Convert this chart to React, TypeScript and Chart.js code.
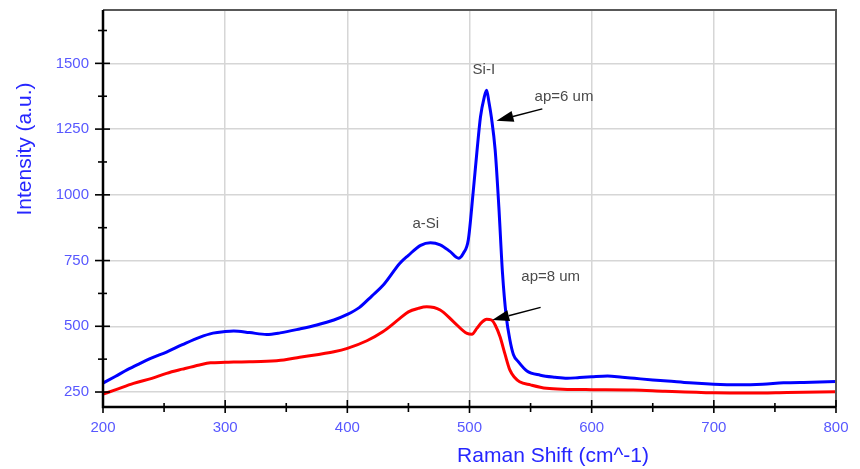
import React, { useEffect, useRef } from 'react';
import { Chart, registerables } from 'chart.js';

Chart.register(...registerables);

// Raman shift (cm^-1) and intensity (a.u.), ap = 6 um (blue)
const blueShift = [200, 210, 220, 230, 240, 252, 265, 279, 290, 300, 307, 320, 334, 345, 361, 375, 389, 400, 410, 420, 430, 443, 450, 460, 468, 476, 484, 491, 495, 499, 503, 506, 509, 512, 514, 516, 518, 521, 524, 527, 530, 533, 536, 540, 547, 558, 570, 580, 590, 600, 613, 625, 635, 650, 662, 680, 700, 720, 740, 757, 780, 800];
const blueIntensity = [284, 309, 335, 358, 380, 402, 430, 458, 474, 480, 482, 476, 469, 475, 490, 505, 524, 545, 572, 615, 660, 740, 770, 808, 818, 810, 785, 759, 778, 828, 1010, 1160, 1297, 1370, 1398, 1350, 1292, 1171, 956, 703, 540, 450, 392, 365, 330, 314, 306, 302, 305, 308, 311, 306, 302, 296, 292, 285, 280, 278, 280, 285, 287, 290];

// ap = 8 um (red)
const redShift = [200, 210, 225, 240, 252, 265, 279, 288, 300, 307, 320, 334, 348, 361, 375, 389, 400, 416, 429, 443, 450, 458, 465, 476, 487, 498, 502, 506, 510, 514, 518, 521, 525, 529, 533, 537, 541, 550, 563, 580, 600, 634, 660, 700, 730, 760, 800];
const redIntensity = [242, 258, 283, 302, 321, 337, 353, 361, 363, 364, 365, 367, 372, 382, 392, 403, 416, 445, 479, 530, 555, 568, 574, 562, 517, 473, 470, 492, 515, 527, 524, 505, 460, 395, 334, 305, 289, 277, 264, 260, 259, 258, 253, 247, 246, 248, 251];

const xTickValues = [200, 250, 300, 350, 400, 450, 500, 550, 600, 650, 700, 750, 800];
const yTickValues = [250, 375, 500, 625, 750, 875, 1000, 1125, 1250, 1375, 1500, 1625];
const xMajorStep = 100;
const yMajorStep = 250;
const xRange = [200, 800];
const yRange = [193, 1703];

const xTitle = 'Raman Shift (cm^-1)';
const yTitle = 'Intensity (a.u.)';

// annotation texts anchored in data units (left, baseline)
const noteTexts = ['Si-I', 'a-Si', 'ap=6 um', 'ap=8 um'];
const noteShift = [502.5, 453.3, 553.3, 542.4];
const noteIntensity = [1460, 874, 1355, 673];

// arrows in data units
const arrowTailShift = [559.6, 558.2];
const arrowTailIntensity = [1327, 572];
const arrowTipShift = [522.1, 518.6];
const arrowTipIntensity = [1282, 524];

const FONT = '"Liberation Sans", Arial, Helvetica, sans-serif';
const TICK_BLUE = '#5858ff';
const TITLE_BLUE = '#2626ff';

const decorPlugin = {
  id: 'decor',
  afterDatasetsDraw(chart: any) {
    const { ctx, chartArea: a } = chart;
    const x = chart.scales.x;
    const y = chart.scales.y;
    ctx.save();

    // top / right frame
    ctx.strokeStyle = '#585858';
    ctx.lineWidth = 2;
    ctx.beginPath();
    ctx.moveTo(a.left, a.top);
    ctx.lineTo(a.right, a.top);
    ctx.lineTo(a.right, a.bottom);
    ctx.stroke();

    // axes
    ctx.strokeStyle = '#000';
    ctx.lineWidth = 2.5;
    ctx.beginPath();
    ctx.moveTo(a.left, a.top);
    ctx.lineTo(a.left, a.bottom);
    ctx.lineTo(a.right, a.bottom);
    ctx.stroke();

    // tick marks crossing the axes
    ctx.lineWidth = 1.6;
    x.ticks.forEach((t: any) => {
      const px = x.getPixelForValue(t.value);
      const major = t.value % xMajorStep === 0;
      ctx.beginPath();
      ctx.moveTo(px, a.bottom - (major ? 7 : 4));
      ctx.lineTo(px, a.bottom + (major ? 6 : 5));
      ctx.stroke();
    });
    y.ticks.forEach((t: any) => {
      const py = y.getPixelForValue(t.value);
      const major = t.value % yMajorStep === 0;
      ctx.beginPath();
      ctx.moveTo(a.left - (major ? 8 : 5), py);
      ctx.lineTo(a.left + (major ? 7 : 4), py);
      ctx.stroke();
    });

    // annotations
    ctx.fillStyle = '#4a4a4a';
    ctx.font = `15px ${FONT}`;
    ctx.textAlign = 'left';
    ctx.textBaseline = 'alphabetic';
    noteTexts.forEach((txt, i) => {
      ctx.fillText(txt, x.getPixelForValue(noteShift[i]), y.getPixelForValue(noteIntensity[i]));
    });

    // arrows
    ctx.strokeStyle = '#000';
    ctx.fillStyle = '#000';
    ctx.lineWidth = 1.5;
    arrowTailShift.forEach((_, i) => {
      const x0 = x.getPixelForValue(arrowTailShift[i]);
      const y0 = y.getPixelForValue(arrowTailIntensity[i]);
      const x1 = x.getPixelForValue(arrowTipShift[i]);
      const y1 = y.getPixelForValue(arrowTipIntensity[i]);
      const ang = Math.atan2(y1 - y0, x1 - x0);
      const len = 17;
      const hw = 5.5;
      const bx = x1 - len * Math.cos(ang);
      const by = y1 - len * Math.sin(ang);
      ctx.beginPath();
      ctx.moveTo(x0, y0);
      ctx.lineTo(bx, by);
      ctx.stroke();
      ctx.beginPath();
      ctx.moveTo(x1, y1);
      ctx.lineTo(bx + hw * Math.sin(ang), by - hw * Math.cos(ang));
      ctx.lineTo(bx - hw * Math.sin(ang), by + hw * Math.cos(ang));
      ctx.closePath();
      ctx.fill();
    });

    // axis titles
    ctx.fillStyle = TITLE_BLUE;
    ctx.font = `21px ${FONT}`;
    ctx.textAlign = 'center';
    ctx.textBaseline = 'middle';
    ctx.fillText(xTitle, a.left + (a.right - a.left) * 0.614, a.bottom + 49);
    ctx.save();
    ctx.translate(25, a.top + (a.bottom - a.top) * 0.35);
    ctx.rotate(-Math.PI / 2);
    ctx.fillText(yTitle, 0, 0);
    ctx.restore();

    ctx.restore();
  },
};

export default function App() {
  const canvasRef = useRef<HTMLCanvasElement | null>(null);

  useEffect(() => {
    const canvas = canvasRef.current;
    if (!canvas) return;
    const chart = new Chart(canvas, {
      type: 'line',
      data: {
        datasets: [
          {
            label: 'ap=6 um',
            data: blueShift.map((v, i) => ({ x: v, y: blueIntensity[i] })),
            borderColor: '#0000ff',
            borderWidth: 3,
            pointRadius: 0,
            cubicInterpolationMode: 'monotone',
            fill: false,
          },
          {
            label: 'ap=8 um',
            data: redShift.map((v, i) => ({ x: v, y: redIntensity[i] })),
            borderColor: '#ff0000',
            borderWidth: 3,
            pointRadius: 0,
            cubicInterpolationMode: 'monotone',
            fill: false,
          },
        ],
      },
      options: {
        responsive: false,
        animation: false,
        events: [],
        layout: { padding: { left: 0, right: 24, top: 10, bottom: 0 } },
        plugins: { legend: { display: false }, tooltip: { enabled: false }, title: { display: false } },
        scales: {
          x: {
            type: 'linear',
            min: xRange[0],
            max: xRange[1],
            afterBuildTicks: (s: any) => {
              s.ticks = xTickValues.map((v) => ({ value: v }));
            },
            afterFit: (s: any) => {
              s.height = 62;
              s.paddingLeft = 0;
              s.paddingRight = 0;
            },
            border: { display: false },
            grid: {
              drawTicks: false,
              lineWidth: 1.5,
              color: (c: any) => (c.tick && c.tick.value % xMajorStep === 0 ? '#d6d6d6' : 'rgba(0,0,0,0)'),
            },
            ticks: {
              autoSkip: false,
              maxRotation: 0,
              padding: 12,
              color: TICK_BLUE,
              font: { family: FONT, size: 15 },
              callback: (v: any) => (Number(v) % xMajorStep === 0 ? String(v) : ''),
            },
          },
          y: {
            type: 'linear',
            min: yRange[0],
            max: yRange[1],
            afterBuildTicks: (s: any) => {
              s.ticks = yTickValues.map((v) => ({ value: v }));
            },
            afterFit: (s: any) => {
              s.width = 103;
              s.paddingTop = 0;
              s.paddingBottom = 0;
            },
            border: { display: false },
            grid: {
              drawTicks: false,
              lineWidth: 1.5,
              color: (c: any) => (c.tick && c.tick.value % yMajorStep === 0 ? '#d6d6d6' : 'rgba(0,0,0,0)'),
            },
            ticks: {
              autoSkip: false,
              padding: 14,
              color: TICK_BLUE,
              font: { family: FONT, size: 15 },
              callback: (v: any) => (Number(v) % yMajorStep === 0 ? String(v) : ''),
            },
          },
        },
      },
      plugins: [decorPlugin],
    } as any);
    return () => chart.destroy();
  }, []);

  return (
    <div style={{ position: 'fixed', left: 0, top: 0, width: 860, height: 469, background: '#fff' }}>
      <canvas ref={canvasRef} width={860} height={469} style={{ display: 'block', width: 860, height: 469 }} />
    </div>
  );
}
